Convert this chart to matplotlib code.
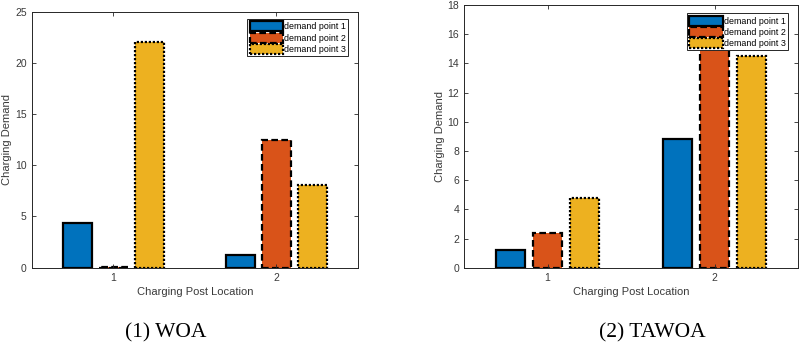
import matplotlib
matplotlib.use("Agg")
import matplotlib.pyplot as plt
import numpy as np

# ── Data ──────────────────────────────────────────────────────────────────
locations = ["1", "2"]
series = ["demand point 1", "demand point 2", "demand point 3"]

woa_dp1 = [4.4, 1.2]
woa_dp2 = [0.08, 12.5]
woa_dp3 = [22.0, 8.1]

tawoa_dp1 = [1.2, 8.8]
tawoa_dp2 = [2.35, 17.0]
tawoa_dp3 = [4.75, 14.5]

captions = ["(1) WOA", "(2) TAWOA"]

# ── Style ─────────────────────────────────────────────────────────────────
colors = ["#0072BD", "#D95319", "#EDB120"]
linestyles = ["-", (0, (3, 1.5)), (0, (1, 0.8))]
axis_col = "#262626"
text_col = "#3a3a3a"

plt.rcParams.update({
    "font.family": "Liberation Sans",
    "font.size": 7.5,
    "xtick.direction": "in",
    "ytick.direction": "in",
})

fig = plt.figure(figsize=(8.0, 3.46), dpi=100)
ax1 = fig.add_axes([0.0396, 0.2263, 0.408, 0.740])
ax2 = fig.add_axes([0.580, 0.2263, 0.4175, 0.7595])


def draw(ax, data, ymax, yticks, legend_anchor):
    x = np.arange(1, len(locations) + 1)
    offsets = [-0.222, 0.0, 0.222]
    for vals, off, c, ls, name in zip(data, offsets, colors, linestyles, series):
        ax.bar(x + off, vals, width=0.178, color=c, edgecolor="black",
               linewidth=1.6, linestyle=ls, label=name)
    ax.set_xlim(0.5, 2.5)
    ax.set_ylim(0, ymax)
    ax.set_xticks(x)
    ax.set_xticklabels(locations)
    ax.set_yticks(yticks)
    ax.tick_params(top=True, right=True, length=3, width=0.6,
                   colors=axis_col, labelsize=7.5, labelcolor=text_col)
    for s in ax.spines.values():
        s.set_color(axis_col)
        s.set_linewidth(0.7)
    ax.set_xlabel("Charging Post Location", fontsize=8, color=text_col,
                  labelpad=3)
    ax.set_ylabel("Charging Demand", fontsize=8, color=text_col,
                  labelpad=2)
    leg = ax.legend(loc="upper right", bbox_to_anchor=legend_anchor,
                    fontsize=6.4, handlelength=3.8, handleheight=1.35,
                    handletextpad=0.1, labelspacing=0.15, borderpad=0.25,
                    borderaxespad=0.0, fancybox=False, framealpha=1)
    leg.get_frame().set_edgecolor(axis_col)
    leg.get_frame().set_linewidth(0.7)


draw(ax1, [woa_dp1, woa_dp2, woa_dp3], 25, [0, 5, 10, 15, 20, 25],
     (0.970, 0.971))
draw(ax2, [tawoa_dp1, tawoa_dp2, tawoa_dp3], 18, list(range(0, 19, 2)),
     (0.970, 0.968))

fig.text(0.2075, 0.038, captions[0], family="Liberation Serif", fontsize=15.5,
         ha="center", va="center")
fig.text(0.816, 0.038, captions[1], family="Liberation Serif", fontsize=15.5,
         ha="center", va="center")

fig.savefig("out.png", dpi=100)
